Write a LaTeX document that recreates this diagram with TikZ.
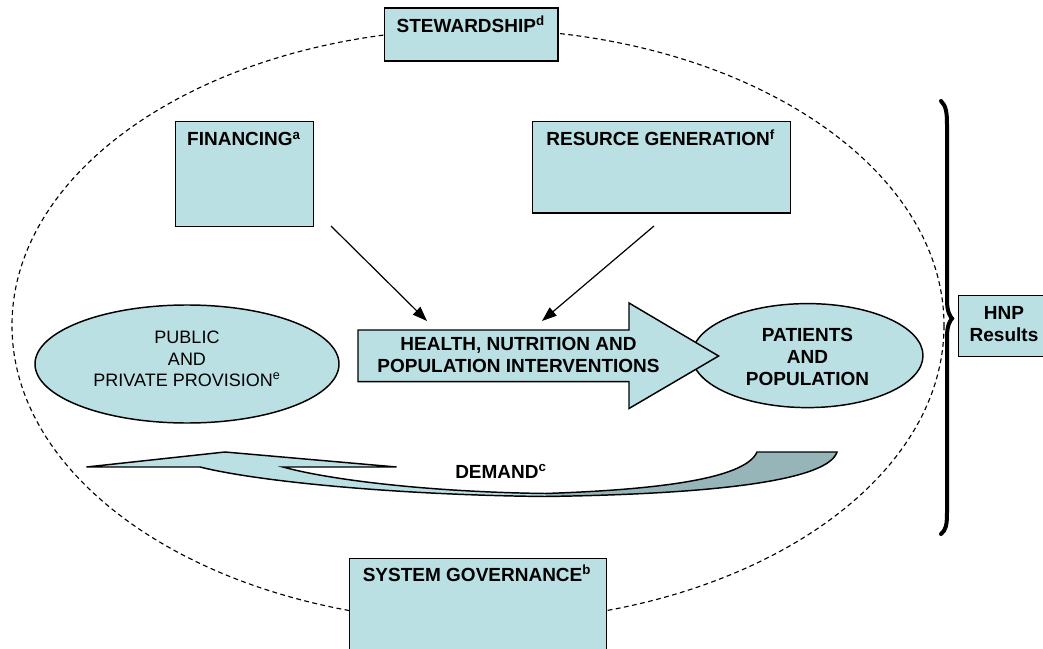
\documentclass[tikz,border=0pt]{standalone}
\usepackage{fontspec}
\setmainfont{Liberation Sans}
\usetikzlibrary{arrows.meta,shapes.geometric}
\definecolor{tealfill}{RGB}{186,224,228}
\definecolor{tealdark}{RGB}{150,181,184}
\begin{document}
\begin{tikzpicture}[x=0.75pt,y=-0.75pt,
  box/.style={rectangle,draw=black,line width=1.1pt,fill=tealfill,inner sep=0pt,anchor=north west},
  oval/.style={ellipse,draw=black,line width=1.1pt,fill=tealfill,inner sep=0pt},
  ttl/.style={font=\bfseries\fontsize{14.25}{16.5}\selectfont,inner sep=0pt,align=center},
  reg/.style={font=\fontsize{13.5}{16.3}\selectfont,inner sep=0pt,align=center},
  link/.style={line width=0.9pt,-{Triangle[length=11pt,width=8pt]}},
  shapeline/.style={draw=black,line width=1.1pt,line join=miter}]
\useasboundingbox (0,0) rectangle (1043,649);
\clip (0,0) rectangle (1043,649);

% outer dashed ellipse
\draw[dash pattern=on 3.6pt off 2.6pt, line width=0.85pt] (478,325.5) ellipse [x radius=466, y radius=296.5];

% boxes
\node[box,minimum width=130.1pt,minimum height=39.75pt] (stew) at (384,7.5) {};
\node[box,minimum width=103.5pt,minimum height=78.75pt] (fin) at (175,121) {};
\node[box,minimum width=193.65pt,minimum height=68.5pt] (res) at (531.6,121) {};
\node[box,minimum width=192.75pt,minimum height=75pt] (sys) at (348.6,558) {};
\node[box,minimum width=69pt,minimum height=45.75pt] (hnp) at (958,295) {};

\node[ttl,anchor=base] (stewt) at (470.75,32.5) {STEWARDSHIP\textsuperscript{d}};
\node[ttl,anchor=base] (fint) at (244,146) {FINANCING\textsuperscript{a}};
\node[ttl,anchor=base] (rest) at (660.7,146) {RESURCE GENERATION\textsuperscript{f}};
\node[ttl,anchor=base] (syst) at (477,581.5) {SYSTEM GOVERNANCE\textsuperscript{b}};
\node[ttl] (hnpt) at (1004,324.4) {HNP\\Results};

% ellipses
\node[oval,minimum width=228pt,minimum height=88.5pt] (pub) at (187,364) {};
\node[oval,minimum width=173.25pt,minimum height=78pt] (pat) at (807.5,355.6) {};
\node[reg] (pubt) at (187,359) {PUBLIC\\AND\\PRIVATE PROVISION\textsuperscript{e}};
\node[ttl] (patt) at (807.5,356.6) {PATIENTS\\AND\\POPULATION};

% big arrow
\draw[shapeline,fill=tealfill] (358,330) -- (629,330) -- (629,303) -- (718.6,356) -- (629,408.5) -- (629,381.6) -- (358,381.6) -- cycle;
\node[ttl] (hnpi) at (518.5,354.5) {HEALTH, NUTRITION AND\\POPULATION INTERVENTIONS};

% small arrows
\coordinate (a1s) at (331,226);
\coordinate (a1e) at (427,321);
\coordinate (a2s) at (654,226);
\coordinate (a2e) at (542,321);
\draw[link] (a1s) -- (a1e);
\draw[link] (a2s) -- (a2e);

% demand curved arrow
\fill[tealfill] (86.5,467) -- (225,452) -- (396.5,467) -- (283,467)
  .. controls (330,480) and (430,492) .. (545,493.5) -- (545,496.5)
  .. controls (400,495) and (260,482) .. (200,467) -- cycle;
\fill[tealdark] (545,493.5) .. controls (650,490) and (745,480) .. (757,452) -- (837,452)
  .. controls (828,480) and (720,494) .. (545,496.5) -- cycle;
\draw[shapeline] (86.5,467) -- (225,452) -- (396.5,467) -- (283,467)
  .. controls (330,480) and (430,492) .. (545,493.5)
  .. controls (650,490) and (745,480) .. (757,452) -- (837,452)
  .. controls (828,480) and (720,494) .. (545,496.5)
  .. controls (400,495) and (260,482) .. (200,467) -- cycle;
\node[ttl,anchor=base] (dem) at (501,478.5) {DEMAND\textsuperscript{c}};

% brace
\draw[line width=3pt,line cap=round] (941,101) .. controls (946,106) and (947,112) .. (947,125)
  -- (947,300) .. controls (947,312) and (950,316) .. (952,318.5)
  .. controls (950,321) and (947,325) .. (947,337)
  -- (947,512) .. controls (947,525) and (946,530) .. (941,534);
\end{tikzpicture}
\end{document}
